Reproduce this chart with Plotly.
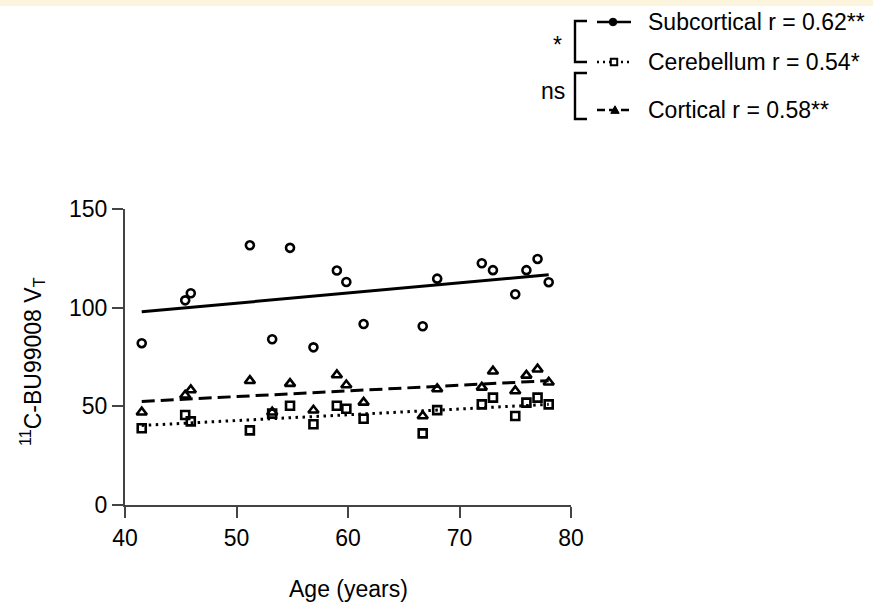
import plotly.graph_objects as go

# ---- data ----
age = [41.5, 45.4, 45.9, 51.2, 53.2, 54.8, 56.9, 59.0, 59.85, 61.4,
       66.7, 68.0, 72.0, 73.0, 75.0, 76.0, 77.0, 78.0]
subcortical = [82.0, 103.7, 107.3, 131.6, 84.0, 130.3, 79.9, 118.8, 113.0, 91.7,
               90.6, 114.7, 122.5, 119.0, 106.8, 119.0, 124.7, 112.9]
cortical = [47.0, 55.6, 58.3, 63.0, 47.0, 61.5, 48.0, 65.9, 60.8, 52.0,
            45.1, 58.8, 59.6, 67.8, 57.8, 65.7, 68.8, 62.2]
cerebellum = [38.9, 45.6, 42.4, 37.8, 46.3, 50.3, 40.9, 50.3, 48.8, 43.7,
              36.3, 48.1, 51.0, 54.4, 45.1, 51.9, 54.4, 51.0]

fit_age = [41.5, 78.0]
subcortical_fit = [97.9, 116.7]
cortical_fit = [52.5, 63.0]
cerebellum_fit = [40.3, 51.0]

legend_labels = ["Subcortical r = 0.62**", "Cerebellum r = 0.54*", "Cortical r = 0.58**"]
bracket_labels = ["*", "ns"]

x_ticks = [40, 50, 60, 70, 80]
y_ticks = [0, 50, 100, 150]

FONT = "Arial, Liberation Sans, sans-serif"
FS = 23
W, H = 873, 605
L, R, T, B = 125, 302, 209, 100
PW, PH = W - L - R, H - T - B


def px(x):
    return (x - L) / PW


def py(y):
    return (H - B - y) / PH


fig = go.Figure()

# regression lines
fig.add_trace(go.Scatter(x=fit_age, y=subcortical_fit, mode="lines",
                         line=dict(color="black", width=3), showlegend=False))
fig.add_trace(go.Scatter(x=fit_age, y=cortical_fit, mode="lines",
                         line=dict(color="black", width=3, dash="13px,6px"), showlegend=False))
fig.add_trace(go.Scatter(x=fit_age, y=cerebellum_fit, mode="lines",
                         line=dict(color="black", width=3, dash="2.5px,4.5px"), showlegend=False))

# data points
fig.add_trace(go.Scatter(x=age, y=subcortical, mode="markers",
                         marker=dict(symbol="circle-open", size=8, color="black",
                                     line=dict(width=2.6, color="black")),
                         showlegend=False, cliponaxis=False))
fig.add_trace(go.Scatter(x=age, y=cortical, mode="markers",
                         marker=dict(symbol="triangle-up-open", size=9, color="black",
                                     line=dict(width=2.6, color="black")),
                         showlegend=False, cliponaxis=False))
fig.add_trace(go.Scatter(x=age, y=cerebellum, mode="markers",
                         marker=dict(symbol="square-open", size=8, color="black",
                                     line=dict(width=2.6, color="black")),
                         showlegend=False, cliponaxis=False))

# ---- custom legend with brackets ----
row_y = [22, 62, 110]
line_x0, line_x1 = 597, 631
dashes = ["solid", "2px,4px", "8px,4px"]
shapes = []
for yy, d in zip(row_y, dashes):
    shapes.append(dict(type="line", xref="paper", yref="paper",
                       x0=px(line_x0), x1=px(line_x1), y0=py(yy), y1=py(yy),
                       line=dict(color="black", width=2.4, dash=d)))
# legend glyphs
cx, cy, r = 613, row_y[0], 3.8
shapes.append(dict(type="circle", xref="paper", yref="paper",
                   x0=px(cx - r), x1=px(cx + r), y0=py(cy + r), y1=py(cy - r),
                   fillcolor="black", line=dict(color="black", width=1)))
cx, cy, r = 614, row_y[1], 3.2
shapes.append(dict(type="rect", xref="paper", yref="paper",
                   x0=px(cx - r), x1=px(cx + r), y0=py(cy + r), y1=py(cy - r),
                   fillcolor="white", line=dict(color="black", width=2)))
cx, cy, r = 615, row_y[2], 4.2
shapes.append(dict(type="path", xref="paper", yref="paper",
                   path=f"M {px(cx - r)},{py(cy + r * 0.8)} L {px(cx + r)},{py(cy + r * 0.8)} L {px(cx)},{py(cy - r)} Z",
                   fillcolor="black", line=dict(color="black", width=1)))
# brackets
for (y0, y1) in [(21, 62), (73, 119)]:
    shapes.append(dict(type="path", xref="paper", yref="paper",
                       path=f"M {px(587)},{py(y0)} L {px(575)},{py(y0)} L {px(575)},{py(y1)} L {px(587)},{py(y1)}",
                       line=dict(color="black", width=2.4)))
# pale strip at the very top
shapes.append(dict(type="rect", xref="paper", yref="paper", layer="below",
                   x0=px(0), x1=px(W), y0=py(6), y1=py(0),
                   fillcolor="#FCF4DD", line=dict(width=0)))

annotations = []
for yy, lab in zip(row_y, legend_labels):
    annotations.append(dict(text=lab, x=px(646), y=py(yy), xref="paper", yref="paper",
                            xanchor="left", yanchor="middle", showarrow=False,
                            font=dict(size=FS, color="black", family=FONT)))
annotations.append(dict(text=bracket_labels[0], x=px(557), y=py(45), xref="paper", yref="paper",
                        xanchor="center", yanchor="middle", showarrow=False,
                        font=dict(size=FS, color="black", family=FONT)))
annotations.append(dict(text=bracket_labels[1], x=px(553), y=py(91), xref="paper", yref="paper",
                        xanchor="center", yanchor="middle", showarrow=False,
                        font=dict(size=FS, color="black", family=FONT)))
# axis titles
annotations.append(dict(text="<sup>11</sup>C-BU99008 V<sub>T</sub>", x=px(32), y=py(362),
                        xref="paper", yref="paper", textangle=-90, showarrow=False,
                        xanchor="center", yanchor="middle",
                        font=dict(size=FS, color="black", family=FONT)))
annotations.append(dict(text="Age (years)", x=0.5, y=py(589), xref="paper", yref="paper",
                        showarrow=False, xanchor="center", yanchor="middle",
                        font=dict(size=FS, color="black", family=FONT)))

axis_style = dict(showgrid=False, zeroline=False, showline=True, linecolor="#444444",
                  linewidth=2, ticks="outside", ticklen=11, tickwidth=2, tickcolor="#444444",
                  tickfont=dict(size=FS, color="black", family=FONT))

fig.update_layout(
    width=W, height=H,
    margin=dict(l=L, r=R, t=T, b=B, pad=0),
    paper_bgcolor="white", plot_bgcolor="white",
    xaxis=dict(range=[40, 80], tickvals=x_ticks, **axis_style),
    yaxis=dict(range=[0, 150], tickvals=y_ticks, **axis_style),
    shapes=shapes, annotations=annotations,
    showlegend=False,
)

fig.write_html("out.html", config={"displayModeBar": False},
               post_script="document.body.style.margin='0';")
